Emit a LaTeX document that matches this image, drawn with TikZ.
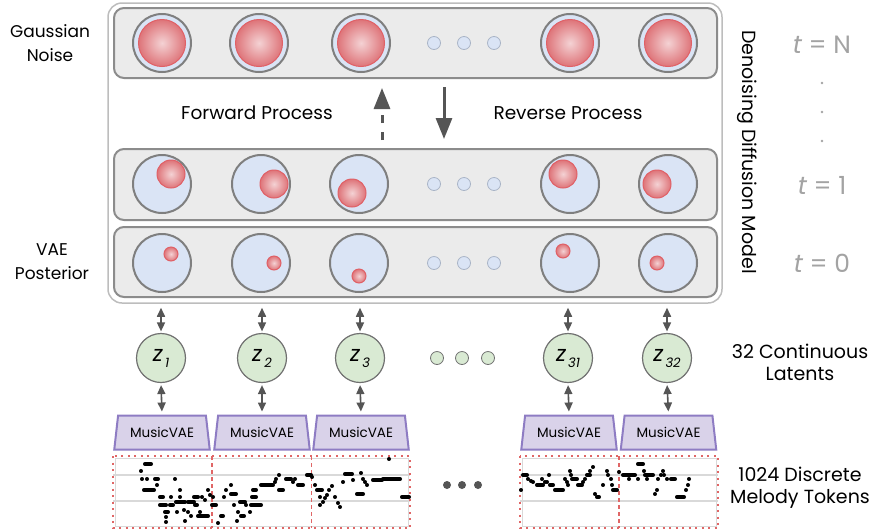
\documentclass[tikz,border=0pt]{standalone}
\usepackage{fontspec}
\setmainfont{Poppins}
\usetikzlibrary{arrows.meta,shapes.geometric}
\definecolor{outerc}{HTML}{BDBDBD}
\definecolor{rowc}{HTML}{8C8C8C}
\definecolor{rowfill}{HTML}{EBEBEB}
\definecolor{circc}{HTML}{7F7F7F}
\definecolor{bluef}{HTML}{DAE4F5}
\definecolor{redb}{HTML}{E06066}
\definecolor{redin}{HTML}{F4D2D4}
\definecolor{redout}{HTML}{DE7479}
\definecolor{dotb}{HTML}{A9B4C6}
\definecolor{greenf}{HTML}{D9EAD3}
\definecolor{greenb}{HTML}{707070}
\definecolor{lavf}{HTML}{D9D2E9}
\definecolor{lavb}{HTML}{8E7CC3}
\definecolor{arrc}{HTML}{555555}
\definecolor{tgray}{HTML}{A3A3A3}
\definecolor{rollred}{HTML}{E06666}
\definecolor{rollgray}{HTML}{D9D9D9}
\begin{document}
\begin{tikzpicture}[x=1pt,y=-1pt,
  font=\fontsize{18.5}{22}\selectfont,
  outerbox/.style={draw=outerc, line width=1.5pt, rounded corners=14pt, fill=white, minimum width=614pt, minimum height=300pt, inner sep=0pt},
  rowbox/.style={draw=rowc, fill=rowfill, line width=2pt, rounded corners=10pt, minimum width=603pt, minimum height=70pt, inner sep=0pt},
  bigc/.style={circle, draw=circc, fill=bluef, line width=2pt, minimum size=58pt, inner sep=0pt},
  redc/.style={circle, draw=redb, line width=1pt, inner color=redin, outer color=redout, inner sep=0pt},
  smalldot/.style={circle, draw=dotb, fill=bluef, line width=0.8pt, minimum size=13pt, inner sep=0pt},
  greendot/.style={circle, draw=greenb, fill=greenf, line width=0.8pt, minimum size=13pt, inner sep=0pt},
  zc/.style={circle, draw=greenb, fill=greenf, line width=1.2pt, minimum size=49pt, inner sep=0pt},
  vae/.style={trapezium, trapezium angle=75, trapezium stretches=true, draw=lavb, fill=lavf, line width=2pt, minimum width=96pt, minimum height=34pt, inner sep=0pt, font=\fontsize{13.5}{15}\selectfont},
  procarrow/.style={draw=arrc, line width=3pt, -{Triangle[width=16pt,length=21pt]}},
  dbl/.style={draw=arrc, line width=1.6pt, {Triangle[width=8pt,length=9pt]}-{Triangle[width=8pt,length=9pt]}},
  tlab/.style={text=tgray, font=\fontsize{25}{27}\selectfont},
  note/.style={draw=black, line width=3.6pt, line cap=round},
  lbl/.style={align=center, font=\fontsize{17}{24}\selectfont},
  rlbl/.style={align=center, font=\fontsize{19}{22}\selectfont}
]
\useasboundingbox (0,0) rectangle (877,531);

% outer box and rows
\node[outerbox] (ddm) at (415,153) {};
\node[rowbox] (rowN) at (415.5,43) {};
\node[rowbox, minimum height=71pt] (row1) at (415.5,184.5) {};
\node[rowbox] (row0) at (415.5,262) {};

% top row: gaussian noise
\foreach \x [count=\i] in {162,259,361,570,668} {
  \node[bigc] (n\i) at (\x,43) {};
  \node[redc, minimum size=47pt] (nr\i) at (\x,43) {};
}
% t = 1 row
\foreach \x/\rx/\ry [count=\i] in {162/171/174, 261/274/184, 359/352/193, 570/563/174, 668/657/184} {
  \node[bigc] (m\i) at (\x,184) {};
  \node[redc, minimum size=28pt] (mr\i) at (\rx,\ry) {};
}
% t = 0 row
\foreach \x/\rx/\ry [count=\i] in {162/171/254, 261/274/263, 359/359/276, 570/563/251, 668/657/263} {
  \node[bigc] (p\i) at (\x,263) {};
  \node[redc, minimum size=14pt] (pr\i) at (\rx,\ry) {};
}
% ellipsis dots in rows
\foreach \y/\r in {43/a,184/b,263/c} {
  \foreach \x [count=\j] in {434,464,494} {
    \node[smalldot] (d\r\j) at (\x,\y) {};
  }
}

% process labels and arrows
\node (fwd) at (257,113) {Forward Process};
\node (rev) at (568,113) {Reverse Process};
\coordinate (fx) at (382,0);
\coordinate (rx) at (444,0);
\draw[procarrow, dash pattern=on 8pt off 9pt, shorten <=8pt, shorten >=9pt] (fx |- row1.north) -- (fx |- rowN.south);
\draw[procarrow, shorten <=8pt, shorten >=9pt] (rx |- rowN.south) -- (rx |- row1.north);

% left labels
\node[lbl] (gn) at (50,43) {Gaussian\\Noise};
\node[lbl] (vp) at (52,262) {VAE\\Posterior};

% right labels
\node[rotate=-90, font=\fontsize{19}{22}\selectfont] (ddmlab) at (747,152) {Denoising Diffusion Model};
\node[tlab] (tN) at (822,45) {\itshape t\upshape{} = N};
\foreach \y [count=\i] in {83,112,141} { \fill[tgray] (822,\y) circle (1.3pt); }
\node[tlab] (t1) at (822,185) {\itshape t\upshape{} = 1};
\node[tlab] (t0) at (822,263) {\itshape t\upshape{} = 0};

% latents
\foreach \x/\s [count=\i] in {161/1,262/2,360/3,568/31,667/32} {
  \node[zc] (z\i) at (\x,358) {\fontsize{22}{22}\selectfont\itshape z\raisebox{-6pt}{\fontsize{13}{13}\selectfont\itshape\,\s}};
}
\foreach \x [count=\j] in {437,462,488} { \node[greendot] (gd\j) at (\x,358) {}; }

% MusicVAE
\foreach \x [count=\i] in {162,262,361,569,668.5} {
  \node[vae] (v\i) at (\x,432.5) {MusicVAE};
}

% double arrows
\foreach \i in {1,...,5} {
  \draw[dbl, shorten <=1.5pt, shorten >=4pt] (z\i.north) -- (z\i.north |- ddm.south);
  \draw[dbl, shorten <=2pt, shorten >=3pt] (z\i.south) -- (v\i.north);
}

% piano rolls
\foreach \xa/\xb in {113/410, 520/718} {
  \fill[white] (\xa,456) rectangle (\xb,528);
  \draw[rollgray, line width=1pt] (\xa+2,458) rectangle (\xb-2,526);
  \draw[rollgray, line width=1.2pt] (\xa,475) -- (\xb,475);
  \draw[rollgray, line width=1.2pt] (\xa,501) -- (\xb,501);
  \draw[rollred, line width=2pt, dash pattern=on 2pt off 4.5pt] (\xa,456) rectangle (\xb,528);
}
\foreach \x in {212,311.5,619} {
  \draw[rollred, line width=1.6pt, dash pattern=on 4pt off 3pt] (\x,456) -- (\x,528);
}
\foreach \a/\b/\c in {
141/141/471, 145/151/464, 142/142/479, 147/147/479, 155/158/479, 144/154/490, 157/157/485, 160/163/497, 160/166/505, 165/168/512, 166/166/517, 166/166/522, 171/171/497, 170/173/505, 175/175/479, 176/185/502, 177/177/512, 180/180/490, 180/180/497, 184/184/510, 188/188/512, 185/185/521, 188/194/502, 191/191/516, 194/198/497, 195/197/505, 200/200/512, 198/208/516, 202/202/497, 205/205/500, 208/208/490, 210/210/495,
212/216/505, 213/213/497, 218/218/523, 221/223/516, 224/224/497, 226/226/490, 231/231/485, 231/236/494, 234/234/505, 238/238/512, 237/237/521, 240/245/502, 241/244/516, 246/246/505, 250/250/512, 251/261/505, 253/256/490, 252/256/497, 261/273/485, 275/275/482, 276/276/479, 279/279/475, 279/283/490, 286/291/479, 293/293/482, 295/295/479, 298/303/485, 307/311/475,
312/312/477, 315/315/485, 317/322/490, 320/320/497, 323/323/502, 320/320/505, 325/325/498, 327/327/495, 329/329/490, 332/332/486, 335/335/497, 338/338/503, 340/340/507, 343/343/482, 345/352/474, 353/353/480, 357/363/494, 361/361/473, 363/363/479, 365/365/482, 367/367/485, 373/382/480, 383/400/479, 389/389/459, 402/409/497,
521/521/490, 523/527/475, 528/528/479, 531/531/481, 533/533/482, 537/542/485, 542/542/479, 543/543/485, 545/545/482, 547/547/482, 549/549/475, 550/553/485, 555/563/490, 565/565/479, 567/567/482, 568/568/485, 570/570/471, 571/571/475, 572/577/479, 578/582/485, 583/583/482, 585/585/479, 587/590/475, 590/590/471, 593/593/467, 595/595/494, 597/599/497, 603/603/485, 607/607/471, 608/608/475, 611/611/479, 612/612/485, 613/617/490,
619/619/472, 623/635/475, 629/629/479, 638/638/479, 638/643/464, 644/644/471, 645/653/475, 647/647/479, 655/655/494, 657/657/490, 658/658/479, 661/661/475, 663/663/471, 664/664/475, 667/667/479, 671/675/479, 677/684/497, 686/686/490, 688/688/485, 689/689/479} {
  \draw[note] (\a-0.2,\c) -- (\b+0.2,\c);
}
\foreach \x [count=\j] in {447,462,478} { \fill[arrc] (\x,485) circle (4pt); }

% right bottom labels
\node[rlbl] (cl) at (800,362.5) {32 Continuous\\Latents};
\node[rlbl] (dm) at (800,487.5) {1024 Discrete\\Melody Tokens};
\end{tikzpicture}
\end{document}
